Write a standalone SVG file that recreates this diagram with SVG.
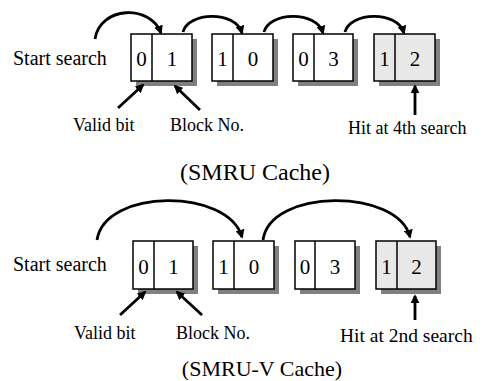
<svg xmlns="http://www.w3.org/2000/svg" width="483" height="381" viewBox="0 0 483 381" font-family="'Liberation Serif', 'Times New Roman', serif">
<style>
.lbl{font-size:18px}
.ss{font-size:20px}
.dg{font-size:21px;text-anchor:middle}
.ttl{font-size:24px;text-anchor:middle}
.box{fill:#fff;stroke:#000;stroke-width:1.5}
.hit{fill:#e8e8e8}
.sh{fill:#808080}
.arc{fill:none;stroke:#000;stroke-width:2.8;marker-end:url(#ah)}
.ptr{fill:none;stroke:#000;stroke-width:2.8;marker-end:url(#ah)}
</style>
<defs>
<marker id="ah" viewBox="0 0 10 10" refX="8" refY="5" markerWidth="9" markerHeight="9" markerUnits="userSpaceOnUse" orient="auto">
<path d="M0,0 L10,5 L0,10 z" fill="#000"/>
</marker>
</defs>
<rect width="483" height="381" fill="#fff"/>
<g id="top" font-family="Liberation Serif, serif">
<text class="ss" x="13" y="65" font-family="Liberation Serif, serif">Start search</text>
<g id="t1"><rect class="sh" x="136" y="39" width="61" height="47"/><rect class="box" x="131" y="34" width="61" height="47"/><line x1="152" y1="34" x2="152" y2="81" stroke="#000" stroke-width="1.5"/><text class="dg" x="141.5" y="66">0</text><text class="dg" x="172" y="66">1</text></g>
<g id="t2"><rect class="sh" x="217" y="39" width="61" height="47"/><rect class="box" x="212" y="34" width="61" height="47"/><line x1="233" y1="34" x2="233" y2="81" stroke="#000" stroke-width="1.5"/><text class="dg" x="222.5" y="66">1</text><text class="dg" x="253" y="66">0</text></g>
<g id="t3"><rect class="sh" x="298" y="39" width="60" height="47"/><rect class="box" x="293" y="34" width="60" height="47"/><line x1="314" y1="34" x2="314" y2="81" stroke="#000" stroke-width="1.5"/><text class="dg" x="303.5" y="66">0</text><text class="dg" x="333.5" y="66">3</text></g>
<g id="t4"><rect class="sh" x="379" y="39" width="61" height="47"/><rect class="box hit" x="374" y="34" width="61" height="47"/><line x1="395" y1="34" x2="395" y2="81" stroke="#000" stroke-width="1.5"/><text class="dg" x="384.5" y="66">1</text><text class="dg" x="415" y="66">2</text></g>
<text class="lbl" x="73" y="131">Valid bit</text>
<text class="lbl" x="170" y="131">Block No.</text>
<text class="lbl" x="348" y="134">Hit at 4th search</text>
<text class="ttl" x="255" y="180">(SMRU Cache)</text>
</g>
<g id="bottom" font-family="Liberation Serif, serif">
<text class="ss" x="13" y="271">Start search</text>
<g id="b1"><rect class="sh" x="138" y="246" width="60" height="48"/><rect class="box" x="133" y="241" width="60" height="48"/><line x1="154" y1="241" x2="154" y2="289" stroke="#000" stroke-width="1.5"/><text class="dg" x="143.5" y="274">0</text><text class="dg" x="173.5" y="274">1</text></g>
<g id="b2"><rect class="sh" x="218" y="246" width="61" height="48"/><rect class="box" x="213" y="241" width="61" height="48"/><line x1="234" y1="241" x2="234" y2="289" stroke="#000" stroke-width="1.5"/><text class="dg" x="223.5" y="274">1</text><text class="dg" x="254" y="274">0</text></g>
<g id="b3"><rect class="sh" x="300" y="246" width="60" height="48"/><rect class="box" x="295" y="241" width="60" height="48"/><line x1="315" y1="241" x2="315" y2="289" stroke="#000" stroke-width="1.5"/><text class="dg" x="305" y="274">0</text><text class="dg" x="335" y="274">3</text></g>
<g id="b4"><rect class="sh" x="381" y="246" width="60" height="48"/><rect class="box hit" x="376" y="241" width="60" height="48"/><line x1="397" y1="241" x2="397" y2="289" stroke="#000" stroke-width="1.5"/><text class="dg" x="386.5" y="274">1</text><text class="dg" x="416.5" y="274">2</text></g>
<text class="lbl" x="74" y="339">Valid bit</text>
<text class="lbl" x="176" y="339">Block No.</text>
<text class="lbl" x="340" y="342" style="font-size:19.5px">Hit at 2nd search</text>
<text class="ttl" x="262" y="376" style="font-size:22px">(SMRU-V Cache)</text>
</g>
<g id="connectors">
<path class="arc" d="M95,39 C100,6 150,4 161,33"/>
<path class="arc" d="M183,32 C188,12 235,10 242,33"/>
<path class="arc" d="M264,32 C269,12 316,10 323,33"/>
<path class="arc" d="M345,32 C350,12 397,10 404,33"/>
<path class="arc" d="M97,240 C105,188 228,188 242,237"/>
<path class="arc" d="M263,240 C270,188 398,188 410,237"/>
<path class="ptr" d="M118,108 L143,85"/>
<path class="ptr" d="M200,110 L175,86"/>
<path class="ptr" d="M415,115 L415,86"/>
<path class="ptr" d="M120,315 L145,292"/>
<path class="ptr" d="M202,315 L177,292"/>
<path class="ptr" d="M415,320 L415,296"/>
</g>
</svg>
